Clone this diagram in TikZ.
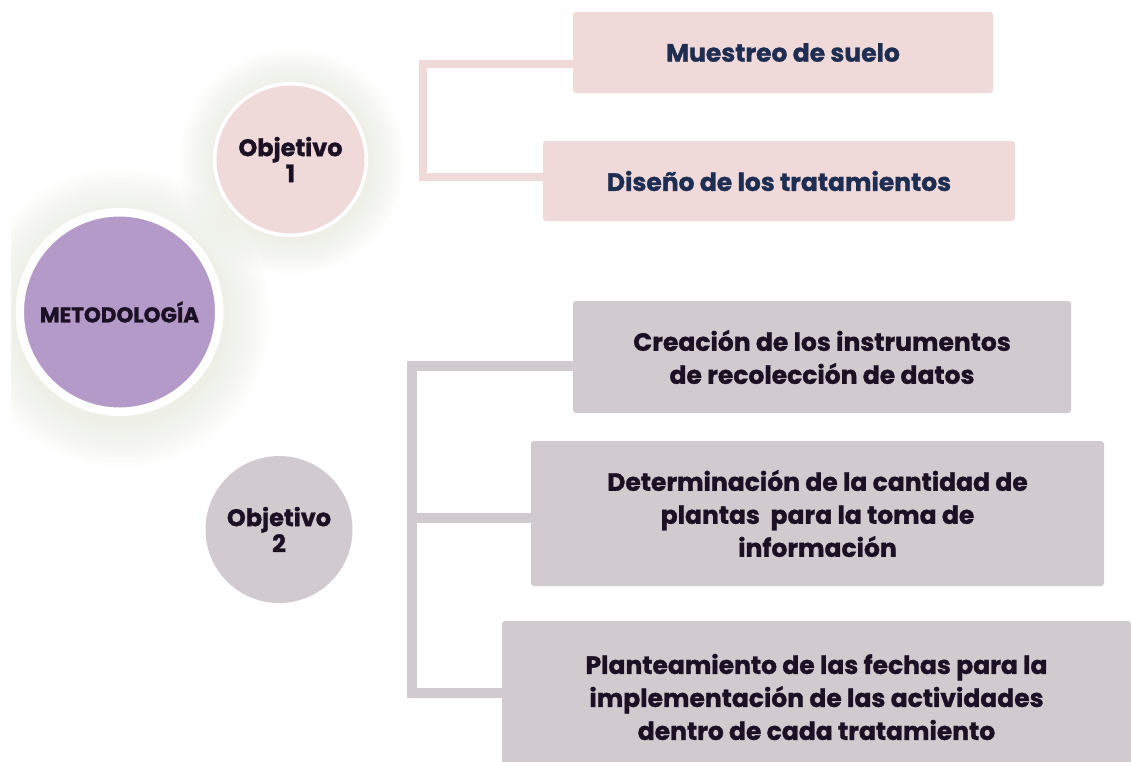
\documentclass[tikz,border=0pt]{standalone}
\usepackage{fontspec}
\setmainfont{Poppins}[BoldFeatures={FakeBold=1.2}]
\definecolor{purp}{HTML}{B49AC8}
\definecolor{pinkc}{HTML}{EFD9D9}
\definecolor{greyc}{HTML}{D1CBD0}
\definecolor{navy}{HTML}{1E2D52}
\definecolor{ink}{HTML}{1B1024}
\definecolor{glow}{HTML}{E4E8DA}
\tikzset{
  pinkbox/.style={rectangle, rounded corners=3pt, fill=pinkc, align=center, text=navy,
    font=\fontsize{25}{33}\selectfont\bfseries, inner sep=0pt},
  greybox/.style={rectangle, rounded corners=3pt, fill=greyc, align=center, text=ink,
    font=\fontsize{25}{33}\selectfont\bfseries, inner sep=0pt},
  circtext/.style={circle, align=center, text=ink, inner sep=0pt,
    font=\fontsize{24}{26}\selectfont\bfseries},
  pinkline/.style={draw=pinkc, line width=8pt, line join=miter},
  greyline/.style={draw=greyc, line width=10pt, line join=miter},
  glowring/.style={fill=glow, fill opacity=0.07},
}
\begin{document}
\begin{tikzpicture}[x=1pt,y=-1pt]
\useasboundingbox (0,0) rectangle (1131,761);
\clip (0,0) rectangle (1131,761);
\fill[white] (0,0) rectangle (1131,761);
% glows
\begin{scope}
\clip (11,0) rectangle (1131,761);
\foreach \i in {1,...,10}{
  \fill[glowring] (121,318) circle ({104+4.5*\i});
}
\end{scope}
\foreach \i in {1,...,10}{
  \fill[glowring] (292,162) circle ({77.5+3.5*\i});
}
% boxes
\node[pinkbox, minimum width=420pt, minimum height=81pt] (m) at (783,52.5) {Muestreo de suelo};
\node[pinkbox, minimum width=472pt, minimum height=80pt] (d) at (779,181) {Diseño de los tratamientos};
\node[greybox, minimum width=498pt, minimum height=112pt] (a) at (822,357) {Creación de los instrumentos\\de recolección de datos};
\node[greybox, minimum width=573pt, minimum height=145pt] (b) at (817.5,513.5) {Determinación de la cantidad de\\plantas\ \ para la toma de\\información};
\node[greybox, minimum width=629pt, minimum height=152pt] (c) at (816.5,697) {Planteamiento de las fechas para la\\implementación de las actividades\\dentro de cada tratamiento};
% connectors
\coordinate (k1) at (423,64);
\coordinate (k2) at (423,176.5);
\coordinate (j1) at (412,366);
\coordinate (j2) at (412,517.5);
\coordinate (j3) at (412,693);
\draw[pinkline] (m.west |- k1) -- (k1) -- (k2) -- (d.west |- k2);
\draw[greyline] (a.west |- j1) -- (j1) -- (j3) -- (c.west |- j3);
\draw[greyline] (j2) -- (b.west |- j2);
% circles
\node[circtext, fill=purp, draw=white, line width=8.5pt, minimum size=199.5pt,
  font=\fontsize{21.5}{22}\selectfont\bfseries] (met) at (119.5,312) {METODOLOGÍA};
\node[circtext, fill=pinkc, draw=white, line width=3.5pt, minimum size=151.5pt] (o1) at (290.5,159.5) {Objetivo\\1};
\node[circtext, fill=greyc, minimum size=147pt] (o2) at (279,529.5) {Objetivo\\2};
\end{tikzpicture}
\end{document}
